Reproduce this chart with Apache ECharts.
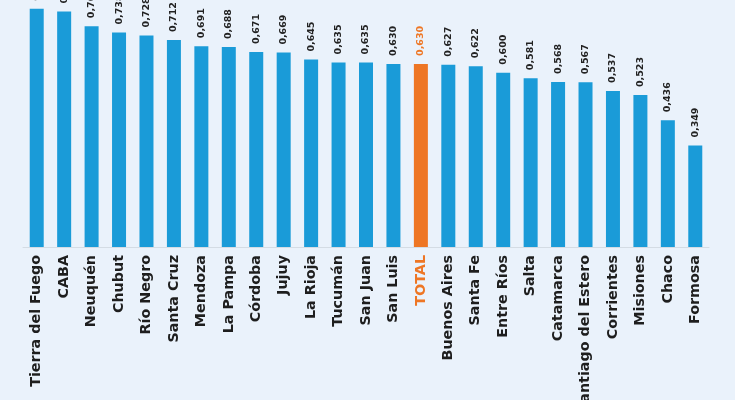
<!DOCTYPE html>
<html><head><meta charset="utf-8">
<script src="https://cdn.jsdelivr.net/npm/echarts@6/dist/echarts.min.js"></script>
<style>html,body{margin:0;padding:0;background:#eaf2fb;}#c{width:735px;height:400px;}</style>
</head><body><div id="c"></div>
<script>
const categories = ["Tierra del Fuego","CABA","Neuquén","Chubut","Río Negro","Santa Cruz","Mendoza","La Pampa","Córdoba","Jujuy","La Rioja","Tucumán","San Juan","San Luis","TOTAL","Buenos Aires","Santa Fe","Entre Ríos","Salta","Catamarca","Santiago del Estero","Corrientes","Misiones","Chaco","Formosa"];
const values = [0.820,0.810,0.760,0.738,0.728,0.712,0.691,0.688,0.671,0.669,0.645,0.635,0.635,0.630,0.630,0.627,0.622,0.600,0.581,0.568,0.567,0.537,0.523,0.436,0.349];
const highlight = "TOTAL";
const BLUE = "#1a9bd8", ORANGE = "#ee7624";
const chart = echarts.init(document.getElementById('c'));
chart.setOption({
  backgroundColor: '#eaf2fb',
  animation: false,
  grid: {left: 23, right: 26, top: 0, bottom: 153, containLabel: false, outerBoundsMode: 'none'},
  xAxis: {
    type: 'category', data: categories,
    axisLine: {show: true, lineStyle: {color: '#d4dce4', width: 1}},
    axisTick: {show: false},
    axisLabel: {
      rotate: 90, interval: 0, margin: 8,
      fontFamily: 'DejaVu Sans', fontWeight: 'bold', fontSize: 14.3,
      color: function(v){ return v === highlight ? ORANGE : '#1e1e1e'; }
    }
  },
  yAxis: {type: 'value', min: 0, max: 0.85, show: false, splitLine: {show: false}},
  series: [{
    type: 'bar', barWidth: 14,
    data: values.map((v, i) => ({
      value: v,
      itemStyle: {color: categories[i] === highlight ? ORANGE : BLUE},
      label: {color: categories[i] === highlight ? ORANGE : '#222'}
    })),
    label: {
      show: true, position: 'top', rotate: 90, align: 'left', verticalAlign: 'middle',
      distance: 8, fontFamily: 'DejaVu Sans', fontWeight: 'bold', fontSize: 9.5,
      formatter: p => p.value.toFixed(3).replace('.', ',')
    }
  }]
});
</script></body></html>
